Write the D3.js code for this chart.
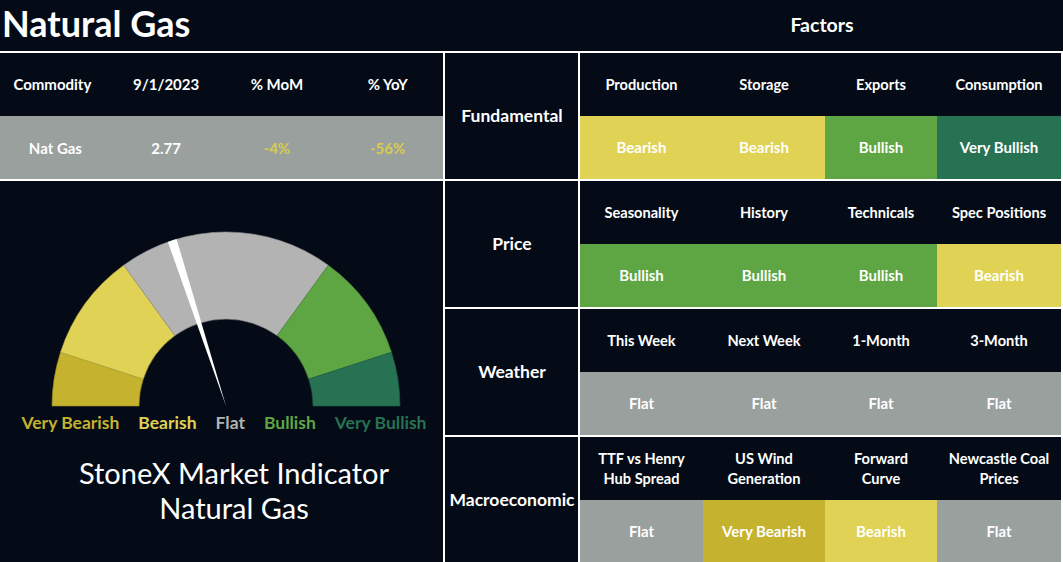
<!DOCTYPE html>
<html>
<head>
<meta charset="utf-8">
<script src="https://cdn.jsdelivr.net/npm/d3@7"></script>
<style>
  body { margin: 0; background: #040b16; }
  svg { display: block; font-family: Lato, "Noto Sans", sans-serif; }
</style>
</head>
<body>
<div id="board"></div>
<script>
// values
var tableHeaders = ["Commodity", "9/1/2023", "% MoM", "% YoY"];
var tableValues = ["Nat Gas", "2.77", "-4%", "-56%"];

var categories = ["Fundamental", "Price", "Weather", "Macroeconomic"];
var factorNames = [
  ["Production", "Storage", "Exports", "Consumption"],
  ["Seasonality", "History", "Technicals", "Spec Positions"],
  ["This Week", "Next Week", "1-Month", "3-Month"],
  ["TTF vs Henry\nHub Spread", "US Wind\nGeneration", "Forward\nCurve", "Newcastle Coal\nPrices"]
];
var factorSignals = [
  ["Bearish", "Bearish", "Bullish", "Very Bullish"],
  ["Bullish", "Bullish", "Bullish", "Bearish"],
  ["Flat", "Flat", "Flat", "Flat"],
  ["Flat", "Very Bearish", "Bearish", "Flat"]
];

var gaugeLevels = ["Very Bearish", "Bearish", "Flat", "Bullish", "Very Bullish"];
var gaugeShares = [0.1, 0.2, 0.4, 0.2, 0.1];
var needleValue = 0.4;

var svgWidth = 1063;
var svgHeight = 562;
var bg = "#040b16";

var svg = d3.select("#board")
  .append("svg")
  .attr("width", svgWidth)
  .attr("height", svgHeight);

svg.append("rect")
  .attr("width", svgWidth)
  .attr("height", svgHeight)
  .attr("fill", bg);

var cellColor = d3.scaleOrdinal()
  .domain(gaugeLevels)
  .range(["#c5b22f", "#e0d254", "#99a09e", "#5ea644", "#267253"]);

var gaugeColor = d3.scaleOrdinal()
  .domain(gaugeLevels)
  .range(["#c5b22f", "#e0d254", "#b3b3b3", "#5ea644", "#267253"]);

// titles
svg.append("text")
  .attr("x", 2)
  .attr("y", 37)
  .attr("fill", "#fff")
  .attr("font-size", 36)
  .attr("font-weight", "bold")
  .text("Natural Gas");

svg.append("text")
  .attr("x", 822)
  .attr("y", 32)
  .attr("text-anchor", "middle")
  .attr("fill", "#fff")
  .attr("font-size", 19.5)
  .attr("font-weight", "bold")
  .text("Factors");

// left table
var leftX = d3.scaleBand()
  .domain(tableHeaders)
  .range([0, 443]);

var leftTable = svg.append("g");

leftTable.append("rect")
  .attr("x", 0)
  .attr("y", 116)
  .attr("width", 443)
  .attr("height", 63)
  .attr("fill", "#99a09e");

leftTable.selectAll(".head")
  .data(tableHeaders)
  .enter()
  .append("text")
  .attr("x", (d, i) => leftX(d) + leftX.bandwidth() / 2 - [3, 0, 0, 0][i])
  .attr("y", 85)
  .attr("dy", "0.35em")
  .attr("text-anchor", "middle")
  .attr("fill", "#fff")
  .attr("font-size", 15)
  .attr("font-weight", "bold")
  .text(d => d);

leftTable.selectAll(".val")
  .data(tableValues)
  .enter()
  .append("text")
  .attr("x", (d, i) => leftX(tableHeaders[i]) + leftX.bandwidth() / 2)
  .attr("y", 149)
  .attr("dy", "0.35em")
  .attr("text-anchor", "middle")
  .attr("fill", (d, i) => i < 2 ? "#fff" : "#d8cc50")
  .attr("font-size", 15)
  .attr("font-weight", "bold")
  .text(d => d);

// gauge
var cx = 226, cy = 406;
var outerR = 174, innerR = 87;

var pie = d3.pie()
  .sort(null)
  .startAngle(-Math.PI / 2)
  .endAngle(Math.PI / 2);

var arc = d3.arc()
  .innerRadius(innerR)
  .outerRadius(outerR);

var gauge = svg.append("g")
  .attr("transform", `translate(${cx}, ${cy})`);

gauge.selectAll("path.seg")
  .data(pie(gaugeShares))
  .enter()
  .append("path")
  .attr("class", "seg")
  .attr("d", arc)
  .attr("fill", (d, i) => gaugeColor(gaugeLevels[i]))
  .attr("stroke", (d, i) => d3.color(gaugeColor(gaugeLevels[i])).darker(0.6))
  .attr("stroke-width", 0.6);

var needleAngle = d3.scaleLinear()
  .domain([0, 1])
  .range([-Math.PI / 2, Math.PI / 2]);

var a = needleAngle(needleValue);
var half = 4.6;
var tipX = outerR * Math.sin(a), tipY = -outerR * Math.cos(a);
var px = Math.cos(a) * half, py = Math.sin(a) * half;

gauge.append("path")
  .attr("d", `M0,0 L${tipX - px},${tipY - py} L${tipX + px},${tipY + py} Z`)
  .attr("fill", "#fff");

// gauge legend, laid out in a row
var legend = svg.append("g");
var legendText = legend.selectAll("text")
  .data(gaugeLevels)
  .enter()
  .append("text")
  .attr("y", 429)
  .attr("fill", d => gaugeColor(d))
  .attr("font-size", 17.5)
  .attr("font-weight", "bold")
  .text(d => d);

var widths = [];
legendText.each(function() { widths.push(this.getComputedTextLength()); });
var gap = 19;
var total = d3.sum(widths) + gap * (widths.length - 1);
var startX = 224 - total / 2;
legendText.attr("x", (d, i) => startX + d3.sum(widths.slice(0, i)) + gap * i);

svg.append("text")
  .attr("x", 234)
  .attr("y", 484)
  .attr("text-anchor", "middle")
  .attr("fill", "#fff")
  .attr("font-size", 29)
  .text("StoneX Market Indicator");

svg.append("text")
  .attr("x", 234)
  .attr("y", 519)
  .attr("text-anchor", "middle")
  .attr("fill", "#fff")
  .attr("font-size", 29)
  .text("Natural Gas");

// factor grid
var rowY = d3.scaleBand()
  .domain(categories)
  .range([51, 563]);

var colEdges = [580, 703, 825, 937, 1061];
var half1 = (rowY.bandwidth() - 2) / 2;

var rows = svg.selectAll("g.row")
  .data(categories)
  .enter()
  .append("g")
  .attr("class", "row")
  .attr("transform", d => `translate(0, ${rowY(d) + 2})`);

rows.append("text")
  .attr("x", 512)
  .attr("y", half1)
  .attr("dy", "0.35em")
  .attr("text-anchor", "middle")
  .attr("fill", "#fff")
  .attr("font-size", 17.5)
  .attr("font-weight", "bold")
  .text(d => d);

rows.each(function(cat, r) {
  var g = d3.select(this);
  var cells = g.selectAll("g.cell")
    .data(d3.range(4))
    .enter()
    .append("g")
    .attr("class", "cell")
    .attr("transform", j => `translate(${colEdges[j]}, 0)`);

  cells.append("rect")
    .attr("y", half1)
    .attr("width", j => colEdges[j + 1] - colEdges[j])
    .attr("height", half1)
    .attr("fill", j => cellColor(factorSignals[r][j]));

  cells.append("text")
    .attr("x", j => (colEdges[j + 1] - colEdges[j]) / 2)
    .attr("y", half1 * 1.5)
    .attr("dy", "0.35em")
    .attr("text-anchor", "middle")
    .attr("fill", "#fff")
    .attr("font-size", 15)
    .attr("font-weight", "bold")
    .text(j => factorSignals[r][j]);

  cells.each(function(j) {
    var lines = factorNames[r][j].split("\n");
    var t = d3.select(this).append("text")
      .attr("text-anchor", "middle")
      .attr("fill", "#fff")
      .attr("font-size", 14.6)
      .attr("font-weight", "bold");
    lines.forEach(function(line, k) {
      t.append("tspan")
        .attr("x", (colEdges[j + 1] - colEdges[j]) / 2)
        .attr("y", half1 / 2 + (k - (lines.length - 1) / 2) * 20)
        .attr("dy", "0.35em")
        .text(line);
    });
  });
});

// white rules
var rules = svg.append("g")
  .attr("stroke", "#fff")
  .attr("stroke-width", 2);

rules.append("line").attr("x1", 0).attr("x2", svgWidth).attr("y1", 52).attr("y2", 52);
rules.append("line").attr("x1", 0).attr("x2", 444).attr("y1", 180).attr("y2", 180);
rules.append("line").attr("x1", 444).attr("x2", 444).attr("y1", 51).attr("y2", svgHeight);
rules.append("line").attr("x1", 579).attr("x2", 579).attr("y1", 51).attr("y2", svgHeight);
rules.append("line").attr("x1", 1062).attr("x2", 1062).attr("y1", 51).attr("y2", svgHeight);
rules.selectAll("line.rowrule")
  .data(categories.slice(1))
  .enter()
  .append("line")
  .attr("class", "rowrule")
  .attr("x1", 444)
  .attr("x2", svgWidth)
  .attr("y1", d => rowY(d) + 1)
  .attr("y2", d => rowY(d) + 1);
</script>
</body>
</html>
